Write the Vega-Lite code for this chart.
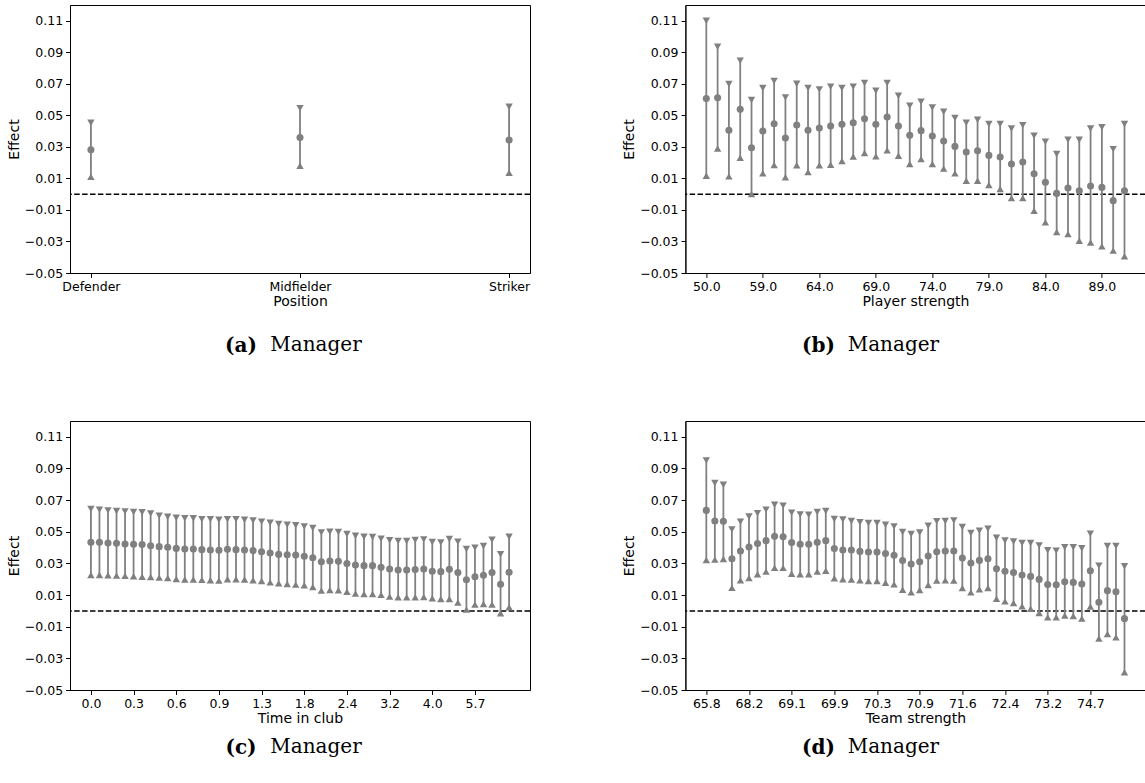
{
  "$schema": "https://vega.github.io/schema/vega-lite/v6.json",
  "background": "white",
  "padding": {"left": 6, "top": 4, "right": 0, "bottom": 0},
  "datasets": {
    "a": [
      {"position": "Defender", "hi": 0.0453, "mean": 0.0282, "lo": 0.0111},
      {"position": "Midfielder", "hi": 0.0546, "mean": 0.0360, "lo": 0.0180},
      {"position": "Striker", "hi": 0.0555, "mean": 0.0343, "lo": 0.0136}
    ],
    "b": [
      {"i": 0, "hi": 0.1100, "mean": 0.0607, "lo": 0.0117},
      {"i": 1, "hi": 0.0935, "mean": 0.0612, "lo": 0.0290},
      {"i": 2, "hi": 0.0699, "mean": 0.0405, "lo": 0.0113},
      {"i": 3, "hi": 0.0847, "mean": 0.0538, "lo": 0.0231},
      {"i": 4, "hi": 0.0597, "mean": 0.0295, "lo": 0.0001},
      {"i": 5, "hi": 0.0673, "mean": 0.0401, "lo": 0.0132},
      {"i": 6, "hi": 0.0718, "mean": 0.0447, "lo": 0.0185},
      {"i": 7, "hi": 0.0614, "mean": 0.0356, "lo": 0.0107},
      {"i": 8, "hi": 0.0701, "mean": 0.0439, "lo": 0.0183},
      {"i": 9, "hi": 0.0673, "mean": 0.0405, "lo": 0.0140},
      {"i": 10, "hi": 0.0665, "mean": 0.0419, "lo": 0.0183},
      {"i": 11, "hi": 0.0682, "mean": 0.0432, "lo": 0.0187},
      {"i": 12, "hi": 0.0673, "mean": 0.0443, "lo": 0.0210},
      {"i": 13, "hi": 0.0682, "mean": 0.0453, "lo": 0.0238},
      {"i": 14, "hi": 0.0705, "mean": 0.0479, "lo": 0.0261},
      {"i": 15, "hi": 0.0656, "mean": 0.0443, "lo": 0.0240},
      {"i": 16, "hi": 0.0705, "mean": 0.0489, "lo": 0.0278},
      {"i": 17, "hi": 0.0624, "mean": 0.0432, "lo": 0.0244},
      {"i": 18, "hi": 0.0561, "mean": 0.0373, "lo": 0.0191},
      {"i": 19, "hi": 0.0586, "mean": 0.0403, "lo": 0.0223},
      {"i": 20, "hi": 0.0550, "mean": 0.0369, "lo": 0.0191},
      {"i": 21, "hi": 0.0523, "mean": 0.0337, "lo": 0.0162},
      {"i": 22, "hi": 0.0483, "mean": 0.0303, "lo": 0.0132},
      {"i": 23, "hi": 0.0453, "mean": 0.0267, "lo": 0.0085},
      {"i": 24, "hi": 0.0472, "mean": 0.0276, "lo": 0.0085},
      {"i": 25, "hi": 0.0445, "mean": 0.0246, "lo": 0.0058},
      {"i": 26, "hi": 0.0445, "mean": 0.0236, "lo": 0.0033},
      {"i": 27, "hi": 0.0417, "mean": 0.0191, "lo": -0.0025},
      {"i": 28, "hi": 0.0438, "mean": 0.0204, "lo": -0.0025},
      {"i": 29, "hi": 0.0371, "mean": 0.0130, "lo": -0.0105},
      {"i": 30, "hi": 0.0333, "mean": 0.0075, "lo": -0.0179},
      {"i": 31, "hi": 0.0255, "mean": 0.0005, "lo": -0.0240},
      {"i": 32, "hi": 0.0345, "mean": 0.0039, "lo": -0.0253},
      {"i": 33, "hi": 0.0345, "mean": 0.0022, "lo": -0.0295},
      {"i": 34, "hi": 0.0417, "mean": 0.0052, "lo": -0.0306},
      {"i": 35, "hi": 0.0424, "mean": 0.0043, "lo": -0.0331},
      {"i": 36, "hi": 0.0286, "mean": -0.0041, "lo": -0.0358},
      {"i": 37, "hi": 0.0445, "mean": 0.0022, "lo": -0.0394}
    ],
    "c": [
      {"i": 0, "hi": 0.0644, "mean": 0.0433, "lo": 0.0227},
      {"i": 1, "hi": 0.0640, "mean": 0.0433, "lo": 0.0227},
      {"i": 2, "hi": 0.0635, "mean": 0.0429, "lo": 0.0225},
      {"i": 3, "hi": 0.0631, "mean": 0.0427, "lo": 0.0223},
      {"i": 4, "hi": 0.0629, "mean": 0.0423, "lo": 0.0221},
      {"i": 5, "hi": 0.0625, "mean": 0.0421, "lo": 0.0219},
      {"i": 6, "hi": 0.0623, "mean": 0.0419, "lo": 0.0216},
      {"i": 7, "hi": 0.0616, "mean": 0.0412, "lo": 0.0214},
      {"i": 8, "hi": 0.0602, "mean": 0.0406, "lo": 0.0210},
      {"i": 9, "hi": 0.0595, "mean": 0.0402, "lo": 0.0208},
      {"i": 10, "hi": 0.0589, "mean": 0.0395, "lo": 0.0202},
      {"i": 11, "hi": 0.0585, "mean": 0.0391, "lo": 0.0198},
      {"i": 12, "hi": 0.0585, "mean": 0.0391, "lo": 0.0198},
      {"i": 13, "hi": 0.0580, "mean": 0.0387, "lo": 0.0196},
      {"i": 14, "hi": 0.0580, "mean": 0.0385, "lo": 0.0194},
      {"i": 15, "hi": 0.0576, "mean": 0.0383, "lo": 0.0191},
      {"i": 16, "hi": 0.0580, "mean": 0.0389, "lo": 0.0200},
      {"i": 17, "hi": 0.0580, "mean": 0.0387, "lo": 0.0200},
      {"i": 18, "hi": 0.0576, "mean": 0.0385, "lo": 0.0198},
      {"i": 19, "hi": 0.0572, "mean": 0.0381, "lo": 0.0194},
      {"i": 20, "hi": 0.0564, "mean": 0.0374, "lo": 0.0189},
      {"i": 21, "hi": 0.0557, "mean": 0.0366, "lo": 0.0180},
      {"i": 22, "hi": 0.0549, "mean": 0.0357, "lo": 0.0174},
      {"i": 23, "hi": 0.0545, "mean": 0.0355, "lo": 0.0170},
      {"i": 24, "hi": 0.0541, "mean": 0.0353, "lo": 0.0166},
      {"i": 25, "hi": 0.0534, "mean": 0.0345, "lo": 0.0162},
      {"i": 26, "hi": 0.0524, "mean": 0.0336, "lo": 0.0151},
      {"i": 27, "hi": 0.0496, "mean": 0.0311, "lo": 0.0128},
      {"i": 28, "hi": 0.0500, "mean": 0.0315, "lo": 0.0132},
      {"i": 29, "hi": 0.0498, "mean": 0.0313, "lo": 0.0130},
      {"i": 30, "hi": 0.0486, "mean": 0.0300, "lo": 0.0121},
      {"i": 31, "hi": 0.0475, "mean": 0.0290, "lo": 0.0109},
      {"i": 32, "hi": 0.0469, "mean": 0.0286, "lo": 0.0107},
      {"i": 33, "hi": 0.0467, "mean": 0.0286, "lo": 0.0107},
      {"i": 34, "hi": 0.0456, "mean": 0.0275, "lo": 0.0101},
      {"i": 35, "hi": 0.0446, "mean": 0.0265, "lo": 0.0090},
      {"i": 36, "hi": 0.0442, "mean": 0.0258, "lo": 0.0086},
      {"i": 37, "hi": 0.0442, "mean": 0.0258, "lo": 0.0086},
      {"i": 38, "hi": 0.0448, "mean": 0.0262, "lo": 0.0086},
      {"i": 39, "hi": 0.0452, "mean": 0.0265, "lo": 0.0088},
      {"i": 40, "hi": 0.0435, "mean": 0.0250, "lo": 0.0080},
      {"i": 41, "hi": 0.0433, "mean": 0.0248, "lo": 0.0075},
      {"i": 42, "hi": 0.0454, "mean": 0.0263, "lo": 0.0075},
      {"i": 43, "hi": 0.0437, "mean": 0.0242, "lo": 0.0053},
      {"i": 44, "hi": 0.0391, "mean": 0.0197, "lo": 0.0008},
      {"i": 45, "hi": 0.0400, "mean": 0.0216, "lo": 0.0040},
      {"i": 46, "hi": 0.0410, "mean": 0.0225, "lo": 0.0044},
      {"i": 47, "hi": 0.0450, "mean": 0.0242, "lo": 0.0040},
      {"i": 48, "hi": 0.0358, "mean": 0.0168, "lo": -0.0015},
      {"i": 49, "hi": 0.0469, "mean": 0.0244, "lo": 0.0023}
    ],
    "d": [
      {"i": 0, "hi": 0.0951, "mean": 0.0635, "lo": 0.0322},
      {"i": 1, "hi": 0.0808, "mean": 0.0568, "lo": 0.0324},
      {"i": 2, "hi": 0.0797, "mean": 0.0566, "lo": 0.0328},
      {"i": 3, "hi": 0.0515, "mean": 0.0330, "lo": 0.0146},
      {"i": 4, "hi": 0.0564, "mean": 0.0378, "lo": 0.0193},
      {"i": 5, "hi": 0.0597, "mean": 0.0403, "lo": 0.0208},
      {"i": 6, "hi": 0.0618, "mean": 0.0426, "lo": 0.0231},
      {"i": 7, "hi": 0.0640, "mean": 0.0444, "lo": 0.0248},
      {"i": 8, "hi": 0.0671, "mean": 0.0471, "lo": 0.0272},
      {"i": 9, "hi": 0.0665, "mean": 0.0469, "lo": 0.0272},
      {"i": 10, "hi": 0.0621, "mean": 0.0432, "lo": 0.0235},
      {"i": 11, "hi": 0.0610, "mean": 0.0421, "lo": 0.0231},
      {"i": 12, "hi": 0.0608, "mean": 0.0421, "lo": 0.0231},
      {"i": 13, "hi": 0.0625, "mean": 0.0433, "lo": 0.0248},
      {"i": 14, "hi": 0.0631, "mean": 0.0444, "lo": 0.0254},
      {"i": 15, "hi": 0.0581, "mean": 0.0394, "lo": 0.0206},
      {"i": 16, "hi": 0.0577, "mean": 0.0385, "lo": 0.0200},
      {"i": 17, "hi": 0.0568, "mean": 0.0385, "lo": 0.0198},
      {"i": 18, "hi": 0.0560, "mean": 0.0376, "lo": 0.0193},
      {"i": 19, "hi": 0.0555, "mean": 0.0372, "lo": 0.0189},
      {"i": 20, "hi": 0.0555, "mean": 0.0372, "lo": 0.0189},
      {"i": 21, "hi": 0.0545, "mean": 0.0363, "lo": 0.0178},
      {"i": 22, "hi": 0.0534, "mean": 0.0351, "lo": 0.0168},
      {"i": 23, "hi": 0.0498, "mean": 0.0318, "lo": 0.0134},
      {"i": 24, "hi": 0.0486, "mean": 0.0296, "lo": 0.0117},
      {"i": 25, "hi": 0.0495, "mean": 0.0311, "lo": 0.0132},
      {"i": 26, "hi": 0.0538, "mean": 0.0347, "lo": 0.0164},
      {"i": 27, "hi": 0.0566, "mean": 0.0374, "lo": 0.0191},
      {"i": 28, "hi": 0.0568, "mean": 0.0378, "lo": 0.0193},
      {"i": 29, "hi": 0.0572, "mean": 0.0378, "lo": 0.0191},
      {"i": 30, "hi": 0.0530, "mean": 0.0334, "lo": 0.0145},
      {"i": 31, "hi": 0.0492, "mean": 0.0303, "lo": 0.0117},
      {"i": 32, "hi": 0.0507, "mean": 0.0319, "lo": 0.0136},
      {"i": 33, "hi": 0.0520, "mean": 0.0330, "lo": 0.0145},
      {"i": 34, "hi": 0.0462, "mean": 0.0266, "lo": 0.0076},
      {"i": 35, "hi": 0.0445, "mean": 0.0250, "lo": 0.0060},
      {"i": 36, "hi": 0.0439, "mean": 0.0243, "lo": 0.0050},
      {"i": 37, "hi": 0.0429, "mean": 0.0226, "lo": 0.0029},
      {"i": 38, "hi": 0.0429, "mean": 0.0218, "lo": 0.0014},
      {"i": 39, "hi": 0.0414, "mean": 0.0199, "lo": -0.0013},
      {"i": 40, "hi": 0.0383, "mean": 0.0167, "lo": -0.0041},
      {"i": 41, "hi": 0.0381, "mean": 0.0165, "lo": -0.0041},
      {"i": 42, "hi": 0.0402, "mean": 0.0184, "lo": -0.0030},
      {"i": 43, "hi": 0.0402, "mean": 0.0180, "lo": -0.0032},
      {"i": 44, "hi": 0.0396, "mean": 0.0170, "lo": -0.0049},
      {"i": 45, "hi": 0.0488, "mean": 0.0253, "lo": 0.0027},
      {"i": 46, "hi": 0.0286, "mean": 0.0054, "lo": -0.0175},
      {"i": 47, "hi": 0.0410, "mean": 0.0128, "lo": -0.0146},
      {"i": 48, "hi": 0.0410, "mean": 0.0121, "lo": -0.0167},
      {"i": 49, "hi": 0.0282, "mean": -0.0049, "lo": -0.0388}
    ]
  },
  "config": {
    "view": {"stroke": "black", "strokeWidth": 1},
    "axis": {
      "labelFont": "DejaVu Sans", "labelFontSize": 12.5, "labelColor": "black",
      "titleFont": "DejaVu Sans", "titleFontSize": 14, "titleFontWeight": "normal", "titleColor": "black",
      "domainColor": "black", "domainWidth": 1, "tickColor": "black", "tickWidth": 1, "tickSize": 4.4,
      "labelPadding": 3, "titlePadding": 3, "grid": false, "labelFlush": false, "labelOverlap": false
    },
    "axisX": {"titlePadding": 1.5},
    "axisY": {"titlePadding": 3},
    "title": {"font": "DejaVu Serif", "fontSize": 20, "color": "black", "orient": "bottom", "anchor": "middle", "frame": "group"}
  },
  "spacing": 64,
  "vconcat": [
    {
      "spacing": 89.4,
      "hconcat": [
        {
          "title": {"text": "(a)", "fontWeight": "bold", "dx": 171, "dy": -20, "offset": 0},
          "vconcat": [
            {
              "width": 460, "height": 268,
              "title": {"text": "Manager", "fontWeight": "normal", "dx": 16, "offset": 27},
              "layer": [
                {
                  "data": {"values": [{}]},
                  "mark": {"type": "rule", "color": "black", "strokeDash": [5.5, 2.4], "strokeWidth": 1.5},
                  "encoding": {"y": {"datum": 0, "type": "quantitative", "scale": {"domain": [-0.05, 0.12], "nice": false, "zero": false}, "axis": {"values": [-0.05, -0.03, -0.01, 0.01, 0.03, 0.05, 0.07, 0.09, 0.11], "format": ".2f", "title": "Effect"}}}
                },
                {
                  "data": {"name": "a"},
                  "mark": {"type": "rule", "color": "#808080", "strokeWidth": 1.8},
                  "encoding": {
                    "x": {"field": "position", "type": "nominal", "sort": null, "scale": {"type": "point", "padding": 0.1}, "axis": {"title": "Position", "labelAngle": 0}},
                    "y": {"field": "lo", "type": "quantitative", "scale": {"domain": [-0.05, 0.12], "nice": false, "zero": false}, "axis": {"values": [-0.05, -0.03, -0.01, 0.01, 0.03, 0.05, 0.07, 0.09, 0.11], "format": ".2f", "title": "Effect"}},
                    "y2": {"field": "hi"}
                  }
                },
                {
                  "data": {"name": "a"},
                  "mark": {"type": "point", "shape": "triangle-down", "filled": true, "color": "#808080", "opacity": 1, "size": 55},
                  "encoding": {
                    "x": {"field": "position", "type": "nominal", "sort": null, "scale": {"type": "point", "padding": 0.1}, "axis": {"title": "Position", "labelAngle": 0}},
                    "y": {"field": "hi", "type": "quantitative", "scale": {"domain": [-0.05, 0.12], "nice": false, "zero": false}, "axis": {"values": [-0.05, -0.03, -0.01, 0.01, 0.03, 0.05, 0.07, 0.09, 0.11], "format": ".2f", "title": "Effect"}}
                  }
                },
                {
                  "data": {"name": "a"},
                  "mark": {"type": "point", "shape": "triangle-up", "filled": true, "color": "#808080", "opacity": 1, "size": 55},
                  "encoding": {
                    "x": {"field": "position", "type": "nominal", "sort": null, "scale": {"type": "point", "padding": 0.1}, "axis": {"title": "Position", "labelAngle": 0}},
                    "y": {"field": "lo", "type": "quantitative", "scale": {"domain": [-0.05, 0.12], "nice": false, "zero": false}, "axis": {"values": [-0.05, -0.03, -0.01, 0.01, 0.03, 0.05, 0.07, 0.09, 0.11], "format": ".2f", "title": "Effect"}}
                  }
                },
                {
                  "data": {"name": "a"},
                  "mark": {"type": "circle", "color": "#808080", "opacity": 1, "size": 50},
                  "encoding": {
                    "x": {"field": "position", "type": "nominal", "sort": null, "scale": {"type": "point", "padding": 0.1}, "axis": {"title": "Position", "labelAngle": 0}},
                    "y": {"field": "mean", "type": "quantitative", "scale": {"domain": [-0.05, 0.12], "nice": false, "zero": false}, "axis": {"values": [-0.05, -0.03, -0.01, 0.01, 0.03, 0.05, 0.07, 0.09, 0.11], "format": ".2f", "title": "Effect"}}
                  }
                }
              ]
            }
          ]
        },
        {
          "title": {"text": "(b)", "fontWeight": "bold", "dx": 133, "dy": -20, "offset": 0},
          "vconcat": [
            {
              "width": 460, "height": 268,
              "title": {"text": "Manager", "fontWeight": "normal", "dx": -22, "offset": 27},
              "layer": [
                {
                  "data": {"values": [{}]},
                  "mark": {"type": "rule", "color": "black", "strokeDash": [5.5, 2.4], "strokeWidth": 1.5},
                  "encoding": {"y": {"datum": 0, "type": "quantitative", "scale": {"domain": [-0.05, 0.12], "nice": false, "zero": false}, "axis": {"values": [-0.05, -0.03, -0.01, 0.01, 0.03, 0.05, 0.07, 0.09, 0.11], "format": ".2f", "title": "Effect"}}}
                },
                {
                  "data": {"name": "b"},
                  "mark": {"type": "rule", "color": "#808080", "strokeWidth": 1.8},
                  "encoding": {
                    "x": {"field": "i", "type": "quantitative", "scale": {"domain": [-1.85, 38.85], "nice": false, "zero": false}, "axis": {"values": [0, 5, 10, 15, 20, 25, 30, 35], "labelExpr": "['50.0','59.0','64.0','69.0','74.0','79.0','84.0','89.0'][round(datum.value/5)]", "title": "Player strength"}},
                    "y": {"field": "lo", "type": "quantitative", "scale": {"domain": [-0.05, 0.12], "nice": false, "zero": false}, "axis": {"values": [-0.05, -0.03, -0.01, 0.01, 0.03, 0.05, 0.07, 0.09, 0.11], "format": ".2f", "title": "Effect"}},
                    "y2": {"field": "hi"}
                  }
                },
                {
                  "data": {"name": "b"},
                  "mark": {"type": "point", "shape": "triangle-down", "filled": true, "color": "#808080", "opacity": 1, "size": 55},
                  "encoding": {
                    "x": {"field": "i", "type": "quantitative", "scale": {"domain": [-1.85, 38.85], "nice": false, "zero": false}, "axis": {"values": [0, 5, 10, 15, 20, 25, 30, 35], "labelExpr": "['50.0','59.0','64.0','69.0','74.0','79.0','84.0','89.0'][round(datum.value/5)]", "title": "Player strength"}},
                    "y": {"field": "hi", "type": "quantitative", "scale": {"domain": [-0.05, 0.12], "nice": false, "zero": false}, "axis": {"values": [-0.05, -0.03, -0.01, 0.01, 0.03, 0.05, 0.07, 0.09, 0.11], "format": ".2f", "title": "Effect"}}
                  }
                },
                {
                  "data": {"name": "b"},
                  "mark": {"type": "point", "shape": "triangle-up", "filled": true, "color": "#808080", "opacity": 1, "size": 55},
                  "encoding": {
                    "x": {"field": "i", "type": "quantitative", "scale": {"domain": [-1.85, 38.85], "nice": false, "zero": false}, "axis": {"values": [0, 5, 10, 15, 20, 25, 30, 35], "labelExpr": "['50.0','59.0','64.0','69.0','74.0','79.0','84.0','89.0'][round(datum.value/5)]", "title": "Player strength"}},
                    "y": {"field": "lo", "type": "quantitative", "scale": {"domain": [-0.05, 0.12], "nice": false, "zero": false}, "axis": {"values": [-0.05, -0.03, -0.01, 0.01, 0.03, 0.05, 0.07, 0.09, 0.11], "format": ".2f", "title": "Effect"}}
                  }
                },
                {
                  "data": {"name": "b"},
                  "mark": {"type": "circle", "color": "#808080", "opacity": 1, "size": 50},
                  "encoding": {
                    "x": {"field": "i", "type": "quantitative", "scale": {"domain": [-1.85, 38.85], "nice": false, "zero": false}, "axis": {"values": [0, 5, 10, 15, 20, 25, 30, 35], "labelExpr": "['50.0','59.0','64.0','69.0','74.0','79.0','84.0','89.0'][round(datum.value/5)]", "title": "Player strength"}},
                    "y": {"field": "mean", "type": "quantitative", "scale": {"domain": [-0.05, 0.12], "nice": false, "zero": false}, "axis": {"values": [-0.05, -0.03, -0.01, 0.01, 0.03, 0.05, 0.07, 0.09, 0.11], "format": ".2f", "title": "Effect"}}
                  }
                }
              ]
            }
          ]
        }
      ]
    },
    {
      "spacing": 89.4,
      "hconcat": [
        {
          "title": {"text": "(c)", "fontWeight": "bold", "dx": 171, "dy": -20, "offset": 0},
          "vconcat": [
            {
              "width": 460, "height": 269,
              "title": {"text": "Manager", "fontWeight": "normal", "dx": 16, "offset": 12},
              "layer": [
                {
                  "data": {"values": [{}]},
                  "mark": {"type": "rule", "color": "black", "strokeDash": [5.5, 2.4], "strokeWidth": 1.5},
                  "encoding": {"y": {"datum": 0, "type": "quantitative", "scale": {"domain": [-0.05, 0.12], "nice": false, "zero": false}, "axis": {"values": [-0.05, -0.03, -0.01, 0.01, 0.03, 0.05, 0.07, 0.09, 0.11], "format": ".2f", "title": "Effect"}}}
                },
                {
                  "data": {"name": "c"},
                  "mark": {"type": "rule", "color": "#808080", "strokeWidth": 1.8},
                  "encoding": {
                    "x": {"field": "i", "type": "quantitative", "scale": {"domain": [-2.45, 51.45], "nice": false, "zero": false}, "axis": {"values": [0, 5, 10, 15, 20, 25, 30, 35, 40, 45], "labelExpr": "['0.0','0.3','0.6','0.9','1.3','1.8','2.4','3.2','4.0','5.7'][round(datum.value/5)]", "title": "Time in club"}},
                    "y": {"field": "lo", "type": "quantitative", "scale": {"domain": [-0.05, 0.12], "nice": false, "zero": false}, "axis": {"values": [-0.05, -0.03, -0.01, 0.01, 0.03, 0.05, 0.07, 0.09, 0.11], "format": ".2f", "title": "Effect"}},
                    "y2": {"field": "hi"}
                  }
                },
                {
                  "data": {"name": "c"},
                  "mark": {"type": "point", "shape": "triangle-down", "filled": true, "color": "#808080", "opacity": 1, "size": 55},
                  "encoding": {
                    "x": {"field": "i", "type": "quantitative", "scale": {"domain": [-2.45, 51.45], "nice": false, "zero": false}, "axis": {"values": [0, 5, 10, 15, 20, 25, 30, 35, 40, 45], "labelExpr": "['0.0','0.3','0.6','0.9','1.3','1.8','2.4','3.2','4.0','5.7'][round(datum.value/5)]", "title": "Time in club"}},
                    "y": {"field": "hi", "type": "quantitative", "scale": {"domain": [-0.05, 0.12], "nice": false, "zero": false}, "axis": {"values": [-0.05, -0.03, -0.01, 0.01, 0.03, 0.05, 0.07, 0.09, 0.11], "format": ".2f", "title": "Effect"}}
                  }
                },
                {
                  "data": {"name": "c"},
                  "mark": {"type": "point", "shape": "triangle-up", "filled": true, "color": "#808080", "opacity": 1, "size": 55},
                  "encoding": {
                    "x": {"field": "i", "type": "quantitative", "scale": {"domain": [-2.45, 51.45], "nice": false, "zero": false}, "axis": {"values": [0, 5, 10, 15, 20, 25, 30, 35, 40, 45], "labelExpr": "['0.0','0.3','0.6','0.9','1.3','1.8','2.4','3.2','4.0','5.7'][round(datum.value/5)]", "title": "Time in club"}},
                    "y": {"field": "lo", "type": "quantitative", "scale": {"domain": [-0.05, 0.12], "nice": false, "zero": false}, "axis": {"values": [-0.05, -0.03, -0.01, 0.01, 0.03, 0.05, 0.07, 0.09, 0.11], "format": ".2f", "title": "Effect"}}
                  }
                },
                {
                  "data": {"name": "c"},
                  "mark": {"type": "circle", "color": "#808080", "opacity": 1, "size": 50},
                  "encoding": {
                    "x": {"field": "i", "type": "quantitative", "scale": {"domain": [-2.45, 51.45], "nice": false, "zero": false}, "axis": {"values": [0, 5, 10, 15, 20, 25, 30, 35, 40, 45], "labelExpr": "['0.0','0.3','0.6','0.9','1.3','1.8','2.4','3.2','4.0','5.7'][round(datum.value/5)]", "title": "Time in club"}},
                    "y": {"field": "mean", "type": "quantitative", "scale": {"domain": [-0.05, 0.12], "nice": false, "zero": false}, "axis": {"values": [-0.05, -0.03, -0.01, 0.01, 0.03, 0.05, 0.07, 0.09, 0.11], "format": ".2f", "title": "Effect"}}
                  }
                }
              ]
            }
          ]
        },
        {
          "title": {"text": "(d)", "fontWeight": "bold", "dx": 133, "dy": -20, "offset": 0},
          "vconcat": [
            {
              "width": 460, "height": 269,
              "title": {"text": "Manager", "fontWeight": "normal", "dx": -22, "offset": 12},
              "layer": [
                {
                  "data": {"values": [{}]},
                  "mark": {"type": "rule", "color": "black", "strokeDash": [5.5, 2.4], "strokeWidth": 1.5},
                  "encoding": {"y": {"datum": 0, "type": "quantitative", "scale": {"domain": [-0.05, 0.12], "nice": false, "zero": false}, "axis": {"values": [-0.05, -0.03, -0.01, 0.01, 0.03, 0.05, 0.07, 0.09, 0.11], "format": ".2f", "title": "Effect"}}}
                },
                {
                  "data": {"name": "d"},
                  "mark": {"type": "rule", "color": "#808080", "strokeWidth": 1.8},
                  "encoding": {
                    "x": {"field": "i", "type": "quantitative", "scale": {"domain": [-2.45, 51.45], "nice": false, "zero": false}, "axis": {"values": [0, 5, 10, 15, 20, 25, 30, 35, 40, 45], "labelExpr": "['65.8','68.2','69.1','69.9','70.3','70.9','71.6','72.4','73.2','74.7'][round(datum.value/5)]", "title": "Team strength"}},
                    "y": {"field": "lo", "type": "quantitative", "scale": {"domain": [-0.05, 0.12], "nice": false, "zero": false}, "axis": {"values": [-0.05, -0.03, -0.01, 0.01, 0.03, 0.05, 0.07, 0.09, 0.11], "format": ".2f", "title": "Effect"}},
                    "y2": {"field": "hi"}
                  }
                },
                {
                  "data": {"name": "d"},
                  "mark": {"type": "point", "shape": "triangle-down", "filled": true, "color": "#808080", "opacity": 1, "size": 55},
                  "encoding": {
                    "x": {"field": "i", "type": "quantitative", "scale": {"domain": [-2.45, 51.45], "nice": false, "zero": false}, "axis": {"values": [0, 5, 10, 15, 20, 25, 30, 35, 40, 45], "labelExpr": "['65.8','68.2','69.1','69.9','70.3','70.9','71.6','72.4','73.2','74.7'][round(datum.value/5)]", "title": "Team strength"}},
                    "y": {"field": "hi", "type": "quantitative", "scale": {"domain": [-0.05, 0.12], "nice": false, "zero": false}, "axis": {"values": [-0.05, -0.03, -0.01, 0.01, 0.03, 0.05, 0.07, 0.09, 0.11], "format": ".2f", "title": "Effect"}}
                  }
                },
                {
                  "data": {"name": "d"},
                  "mark": {"type": "point", "shape": "triangle-up", "filled": true, "color": "#808080", "opacity": 1, "size": 55},
                  "encoding": {
                    "x": {"field": "i", "type": "quantitative", "scale": {"domain": [-2.45, 51.45], "nice": false, "zero": false}, "axis": {"values": [0, 5, 10, 15, 20, 25, 30, 35, 40, 45], "labelExpr": "['65.8','68.2','69.1','69.9','70.3','70.9','71.6','72.4','73.2','74.7'][round(datum.value/5)]", "title": "Team strength"}},
                    "y": {"field": "lo", "type": "quantitative", "scale": {"domain": [-0.05, 0.12], "nice": false, "zero": false}, "axis": {"values": [-0.05, -0.03, -0.01, 0.01, 0.03, 0.05, 0.07, 0.09, 0.11], "format": ".2f", "title": "Effect"}}
                  }
                },
                {
                  "data": {"name": "d"},
                  "mark": {"type": "circle", "color": "#808080", "opacity": 1, "size": 50},
                  "encoding": {
                    "x": {"field": "i", "type": "quantitative", "scale": {"domain": [-2.45, 51.45], "nice": false, "zero": false}, "axis": {"values": [0, 5, 10, 15, 20, 25, 30, 35, 40, 45], "labelExpr": "['65.8','68.2','69.1','69.9','70.3','70.9','71.6','72.4','73.2','74.7'][round(datum.value/5)]", "title": "Team strength"}},
                    "y": {"field": "mean", "type": "quantitative", "scale": {"domain": [-0.05, 0.12], "nice": false, "zero": false}, "axis": {"values": [-0.05, -0.03, -0.01, 0.01, 0.03, 0.05, 0.07, 0.09, 0.11], "format": ".2f", "title": "Effect"}}
                  }
                }
              ]
            }
          ]
        }
      ]
    }
  ]
}
